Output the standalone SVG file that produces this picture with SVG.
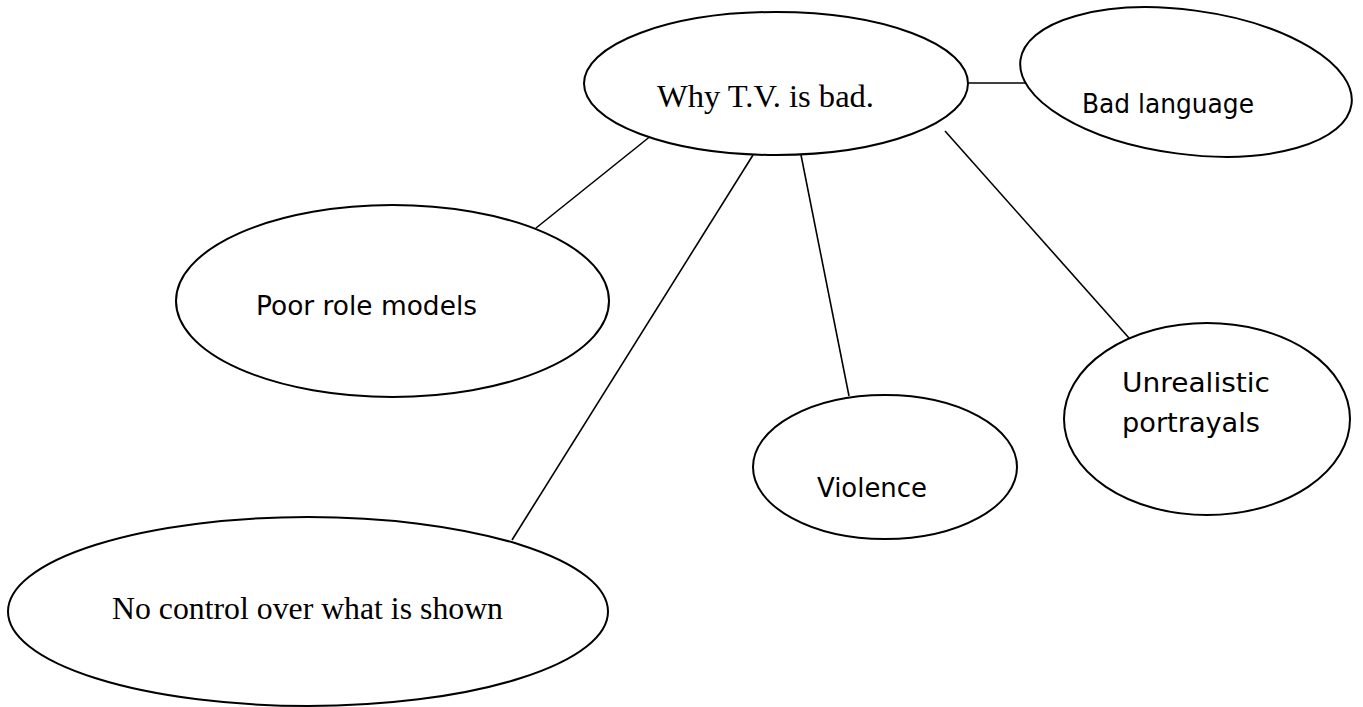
<svg xmlns="http://www.w3.org/2000/svg" width="1363" height="707" viewBox="0 0 1363 707">
<style>
.node ellipse{fill:#fff;stroke:#000;stroke-width:2}
.conn line{stroke:#000;stroke-width:1.6}
.serif{font-family:"Liberation Serif","Times New Roman",serif;font-size:32px;fill:#000}
.comic{font-family:"Comic Sans MS","DejaVu Sans",sans-serif;font-size:26px;fill:#000}
</style>
<rect width="1363" height="707" fill="#fff"/>
<g id="connectors" class="conn">
<line x1="968" y1="83" x2="1028" y2="83"/>
<line x1="657" y1="131" x2="536" y2="228"/>
<line x1="753" y1="155" x2="512" y2="540"/>
<line x1="801" y1="155" x2="849" y2="396"/>
<line x1="945" y1="131" x2="1137" y2="347"/>
</g>
<g id="central" class="node">
<ellipse cx="776" cy="83.5" rx="192" ry="71.5"/>
<text class="serif" x="657" y="107" textLength="217" lengthAdjust="spacingAndGlyphs">Why T.V. is bad.</text>
</g>
<g id="bad-language" class="node">
<ellipse cx="1186" cy="82" rx="167" ry="72" transform="rotate(7.6 1186 82)"/>
<text class="comic" x="1082" y="113" textLength="172" lengthAdjust="spacingAndGlyphs">Bad language</text>
</g>
<g id="poor-role-models" class="node">
<ellipse cx="392.5" cy="301" rx="216.5" ry="96"/>
<text class="comic" x="256" y="315" textLength="221" lengthAdjust="spacingAndGlyphs">Poor role models</text>
</g>
<g id="violence" class="node">
<ellipse cx="885" cy="467" rx="132" ry="72"/>
<text class="comic" x="817" y="497" textLength="110" lengthAdjust="spacingAndGlyphs">Violence</text>
</g>
<g id="unrealistic-portrayals" class="node">
<ellipse cx="1207" cy="419" rx="143" ry="96"/>
<text class="comic" x="1122" y="392" textLength="148" lengthAdjust="spacingAndGlyphs">Unrealistic</text>
<text class="comic" x="1122" y="432" textLength="138" lengthAdjust="spacingAndGlyphs">portrayals</text>
</g>
<g id="no-control" class="node">
<ellipse cx="308" cy="611.5" rx="300" ry="94.5"/>
<text class="serif" x="112" y="619" textLength="391" lengthAdjust="spacingAndGlyphs">No control over what is shown</text>
</g>
</svg>
